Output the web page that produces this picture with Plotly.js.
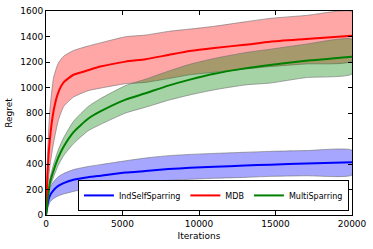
<!DOCTYPE html>
<html>
<head>
<meta charset="utf-8">
<script src="https://cdn.plot.ly/plotly-3.0.1.min.js"></script>
<style>html,body{margin:0;padding:0;background:#fff;}#chart{width:373px;height:249px;}</style>
</head>
<body>
<div id="chart"></div>
<script>
const iterations = [0, 100, 250, 500, 800, 1150, 1800, 2750, 3550, 5200, 6500, 8000, 9400, 11000, 13000, 14650, 17000, 20000];

const indMean  = [0, 85, 150, 195, 228, 250, 276, 296, 308, 333, 345, 360, 370, 378, 388, 395, 403, 413];
const indUpper = [0, 130, 210, 262, 300, 325, 356, 380, 395, 425, 447, 465, 475, 483, 492, 499, 505, 507];
const indLower = [0, 45, 100, 130, 150, 165, 185, 210, 222, 248, 260, 272, 280, 288, 295, 303, 308, 314];

const mdbMean  = [0, 330, 590, 820, 960, 1040, 1100, 1135, 1164, 1203, 1222, 1255, 1286, 1310, 1335, 1359, 1380, 1406];
const mdbUpper = [0, 470, 820, 1080, 1190, 1245, 1290, 1325, 1350, 1398, 1411, 1440, 1458, 1480, 1515, 1542, 1565, 1594];
const mdbLower = [0, 200, 380, 570, 740, 850, 925, 975, 995, 1030, 1040, 1070, 1100, 1120, 1145, 1164, 1185, 1208];

const multiMean  = [0, 110, 250, 350, 450, 535, 650, 755, 812, 905, 955, 1015, 1062, 1108, 1150, 1177, 1210, 1242];
const multiUpper = [0, 130, 285, 400, 510, 605, 735, 850, 912, 1015, 1065, 1128, 1182, 1228, 1273, 1300, 1340, 1378];
const multiLower = [0, 90, 215, 300, 390, 465, 560, 660, 710, 800, 845, 900, 942, 982, 1020, 1035, 1078, 1107];

const seriesNames = ["IndSelfSparring", "MDB", "MultiSparring"];
const lineColors = ["#0000ff", "#ff0000", "#008000"];
const fillColors = ["rgba(0,0,255,0.35)", "rgba(255,0,0,0.35)", "rgba(0,128,0,0.35)"];

const means = [indMean, mdbMean, multiMean];
const uppers = [indUpper, mdbUpper, multiUpper];
const lowers = [indLower, mdbLower, multiLower];

const traces = [];
for (let i = 0; i < 3; i++) {
  const xr = iterations.slice().reverse();
  traces.push({
    x: iterations.concat(xr),
    y: uppers[i].concat(lowers[i].slice().reverse()),
    type: "scatter", mode: "lines", fill: "toself",
    fillcolor: fillColors[i],
    line: {color: "rgba(110,110,110,0.6)", width: 1, shape: "spline", smoothing: 0.5},
    showlegend: false, hoverinfo: "skip"
  });
}
for (let i = 0; i < 3; i++) {
  traces.push({
    x: iterations, y: means[i], name: seriesNames[i],
    type: "scatter", mode: "lines",
    line: {color: lineColors[i], width: 2, shape: "spline", smoothing: 0.5}
  });
}

const font = {family: "DejaVu Sans", size: 9, color: "#000"};
const layout = {
  width: 373, height: 249,
  margin: {l: 46, r: 21, t: 11, b: 34, pad: 0},
  paper_bgcolor: "#fff", plot_bgcolor: "#fff",
  font: font,
  showlegend: true,
  legend: {
    orientation: "h", x: 0.99, xanchor: "right", y: 0.02, yanchor: "bottom",
    bgcolor: "#fff", bordercolor: "#000", borderwidth: 1,
    font: {family: "DejaVu Sans", size: 8, color: "#000"},
    traceorder: "normal", tracegroupgap: 0
  },
  xaxis: {
    range: [0, 20000], tickvals: [0, 5000, 10000, 15000, 20000],
    ticktext: ["0", "5000", "10000", "15000", "20000"],
    ticks: "inside", ticklen: 4, tickcolor: "#000",
    showline: true, linecolor: "#000", linewidth: 1, mirror: "ticks",
    showgrid: false, zeroline: false,
    tickfont: font,
    title: {text: "Iterations", font: font, standoff: 4}
  },
  yaxis: {
    range: [0, 1600], tickvals: [0, 200, 400, 600, 800, 1000, 1200, 1400, 1600],
    ticks: "inside", ticklen: 4, tickcolor: "#000",
    showline: true, linecolor: "#000", linewidth: 1, mirror: "ticks",
    showgrid: false, zeroline: false,
    tickfont: font,
    title: {text: "Regret", font: font, standoff: 6}
  }
};

Plotly.newPlot("chart", traces, layout, {staticPlot: true, displayModeBar: false});
</script>
</body>
</html>
